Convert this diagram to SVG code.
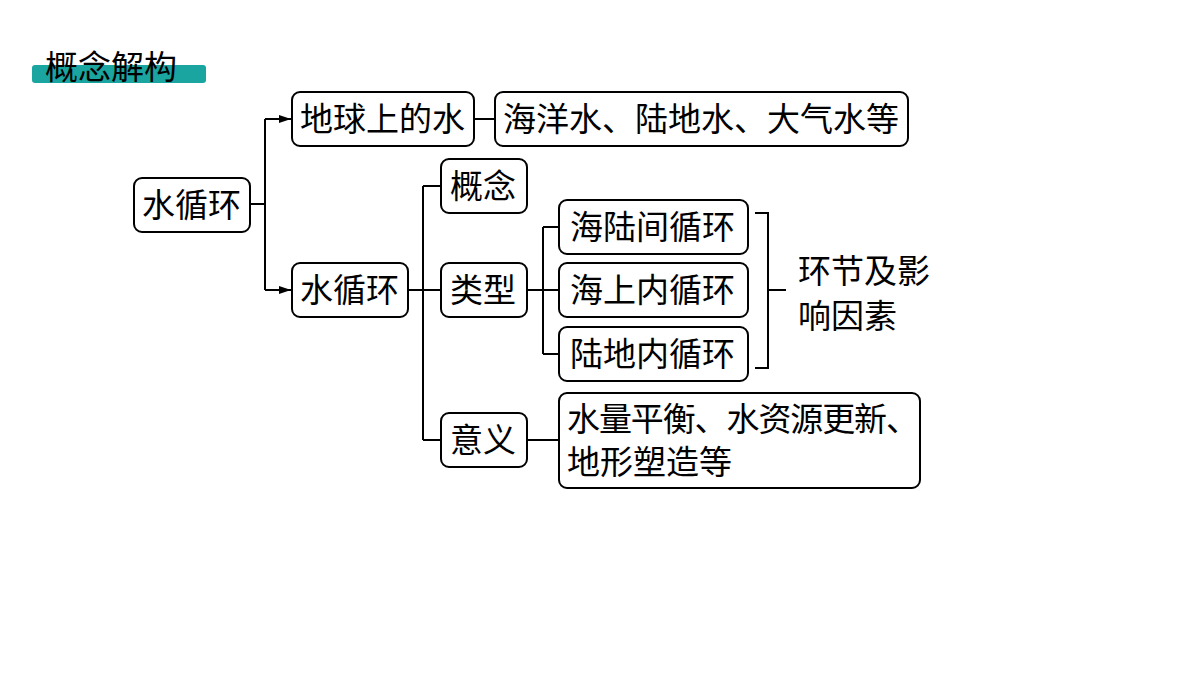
<svg xmlns="http://www.w3.org/2000/svg" width="1200" height="675" viewBox="0 0 1200 675">
<defs>
<marker id="ar" markerWidth="12" markerHeight="10" refX="12" refY="5" orient="auto" markerUnits="userSpaceOnUse"><path d="M0,1 L12,5 L0,9 Z" fill="#000"/></marker>
<style>
.n rect{fill:#fff;stroke:#000;stroke-width:2}
text{font-family:"Noto Sans CJK SC",sans-serif;font-size:33px;fill:#000}
.c{fill:none;stroke:#000;stroke-width:2}
</style>
</defs>
<rect width="1200" height="675" fill="#fff"/>
<g id="title"><rect x="32" y="65" width="174" height="18" rx="3" fill="#1aa5a0"/><text x="45" y="79" font-size="35">概念解构</text></g>
<g id="connectors" class="c">
<path d="M250,204 H265 M265,119 V290"/>
<path d="M265,119 H291" marker-end="url(#ar)"/>
<path d="M265,290 H291" marker-end="url(#ar)"/>
<path d="M474,119 H495"/>
<path d="M408,290 H441 M423,186 V440 M423,186 H441 M423,440 H441"/>
<path d="M527,290 H559 M543,227 V354 M543,227 H559 M543,354 H559"/>
<path d="M755,213 H768 V368 H755 M768,290 H786"/>
<path d="M527,440 H559"/>
</g>
<g id="root" class="n"><rect x="134" y="178" width="116" height="54" rx="8"/><text x="142" y="217">水循环</text></g>
<g id="earth" class="n"><rect x="292" y="92" width="182" height="54" rx="8"/><text x="300" y="131">地球上的水</text></g>
<g id="types-water" class="n"><rect x="495" y="92" width="413" height="54" rx="8"/><text x="503" y="131" textLength="396">海洋水、陆地水、大气水等</text></g>
<g id="cycle" class="n"><rect x="292" y="263" width="116" height="54" rx="8"/><text x="300" y="302">水循环</text></g>
<g id="concept" class="n"><rect x="441" y="159" width="86" height="54" rx="8"/><text x="450" y="198">概念</text></g>
<g id="type" class="n"><rect x="441" y="263" width="86" height="54" rx="8"/><text x="450" y="302">类型</text></g>
<g id="meaning" class="n"><rect x="441" y="413" width="86" height="54" rx="8"/><text x="450" y="452">意义</text></g>
<g id="t1" class="n"><rect x="559" y="200" width="189" height="54" rx="8"/><text x="570" y="239">海陆间循环</text></g>
<g id="t2" class="n"><rect x="559" y="263" width="189" height="54" rx="8"/><text x="570" y="302">海上内循环</text></g>
<g id="t3" class="n"><rect x="559" y="327" width="189" height="54" rx="8"/><text x="570" y="366">陆地内循环</text></g>
<g id="factors"><text x="798" y="283" font-size="32">环节及影</text><text x="798" y="328" font-size="32">响因素</text></g>
<g id="meaning-text" class="n"><rect x="559" y="393" width="361" height="95" rx="8"/><text x="567" y="431" font-size="31" textLength="352">水量平衡、水资源更新、</text><text x="567" y="474" font-size="31">地形塑造等</text></g>
</svg>
